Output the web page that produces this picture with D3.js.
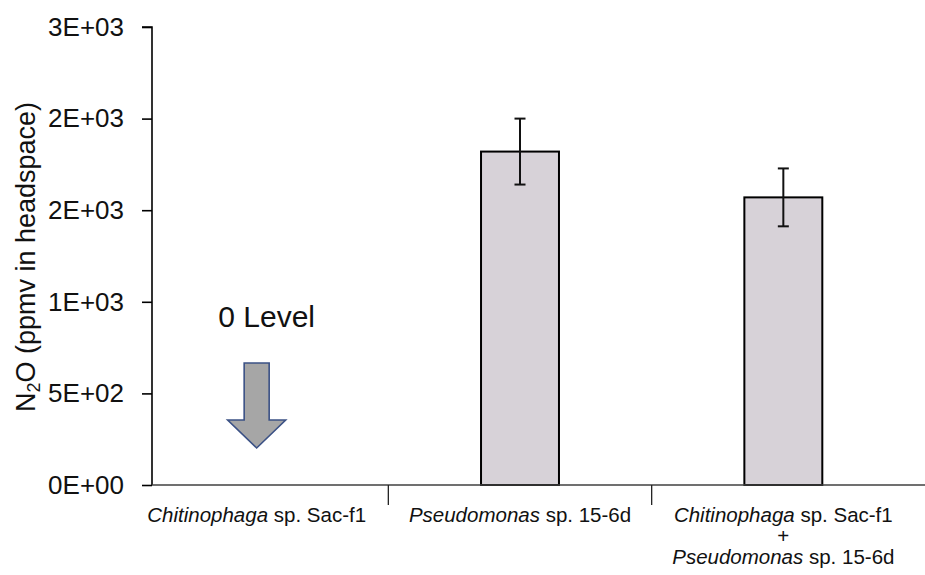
<!DOCTYPE html>
<html>
<head>
<meta charset="utf-8">
<script src="https://cdn.jsdelivr.net/npm/d3@7"></script>
<style>
  html, body { margin: 0; padding: 0; background: #fff; }
  svg { display: block; font-family: "Liberation Sans", Arial, sans-serif; }
</style>
</head>
<body>
<svg id="chart" width="925" height="575"></svg>
<script>
// N2O accumulated in the headspace for each culture
const categories = ["chitinophaga", "pseudomonas", "coculture"];
const categoryLines = [
  [[["Chitinophaga", true], [" sp. Sac-f1", false]]],
  [[["Pseudomonas", true], [" sp. 15-6d", false]]],
  [
    [["Chitinophaga", true], [" sp. Sac-f1", false]],
    [["+", false]],
    [["Pseudomonas", true], [" sp. 15-6d", false]]
  ]
];
const n2oMean = [0, 1820, 1570];
const n2oError = [0, 180, 158];
const yTickValues = [0, 500, 1000, 1500, 2000, 2500];
const yTickLabels = ["0E+00", "5E+02", "1E+03", "2E+03", "2E+03", "3E+03"];
const yTitle = ["N", "2", "O (ppmv in headspace)"];
const zeroNote = "0 Level";

const svg = d3.select("#chart");
const plot = { left: 152, top: 27, bottom: 485, right: 925 };

const y = d3.scaleLinear().domain([0, 2500]).range([plot.bottom, plot.top]);
const x = d3.scaleBand().domain(categories).range([125, 915]).padding(0);
const barW = x.bandwidth() * 0.296;

const rows = categories.map((c, i) => ({ c, v: n2oMean[i], e: n2oError[i], lines: categoryLines[i] }));

// bars (a zero mean draws no bar)
svg.append("g").selectAll("rect")
  .data(rows.filter(d => d.v > 0))
  .join("rect")
  .attr("x", d => x(d.c) + x.bandwidth() / 2 - barW / 2)
  .attr("y", d => y(d.v))
  .attr("width", barW)
  .attr("height", d => y(0) - y(d.v))
  .attr("fill", "#d7d2d8")
  .attr("stroke", "#000")
  .attr("stroke-width", 2);

// error bars
const eb = svg.append("g").attr("stroke", "#111").attr("stroke-width", 2)
  .selectAll("g").data(rows.filter(d => d.e > 0)).join("g");
const cx = d => x(d.c) + x.bandwidth() / 2;
const capW = 11;
eb.append("line").attr("x1", cx).attr("x2", cx)
  .attr("y1", d => y(d.v + d.e)).attr("y2", d => y(d.v - d.e));
eb.append("line").attr("x1", d => cx(d) - capW / 2).attr("x2", d => cx(d) + capW / 2)
  .attr("y1", d => y(d.v + d.e)).attr("y2", d => y(d.v + d.e));
eb.append("line").attr("x1", d => cx(d) - capW / 2).attr("x2", d => cx(d) + capW / 2)
  .attr("y1", d => y(d.v - d.e)).attr("y2", d => y(d.v - d.e));

// y axis
const yAxis = d3.axisLeft(y)
  .tickValues(yTickValues)
  .tickFormat((d, i) => yTickLabels[i])
  .tickSize(10)
  .tickPadding(18);
const gy = svg.append("g").attr("transform", `translate(${plot.left},0)`).call(yAxis);
gy.select(".domain").attr("stroke", "#000").attr("stroke-width", 1.6)
  .attr("d", `M-10,${y(2500)}H0V${y(0)}`);
gy.selectAll(".tick line").attr("stroke", "#000").attr("stroke-width", 1.6);
gy.selectAll(".tick text")
  .attr("font-size", 26)
  .attr("fill", "#111")
  .attr("font-family", "Liberation Sans, Arial, sans-serif");

// x axis baseline and category dividers
svg.append("line")
  .attr("x1", plot.left).attr("x2", plot.right)
  .attr("y1", y(0)).attr("y2", y(0))
  .attr("stroke", "#404040").attr("stroke-width", 1.3);
svg.append("g").selectAll("line")
  .data(categories.slice(1))
  .join("line")
  .attr("x1", d => x(d)).attr("x2", d => x(d))
  .attr("y1", y(0)).attr("y2", y(0) + 20)
  .attr("stroke", "#222").attr("stroke-width", 1.3);

// category labels
const lab = svg.append("g").attr("font-size", 20.5).attr("fill", "#111")
  .selectAll("text")
  .data(rows.flatMap(d => d.lines.map((segs, li) => ({ c: d.c, segs, li }))))
  .join("text")
  .attr("x", d => x(d.c) + x.bandwidth() / 2)
  .attr("y", d => y(0) + 37 + d.li * 21)
  .attr("text-anchor", "middle");
lab.selectAll("tspan")
  .data(d => d.segs)
  .join("tspan")
  .attr("font-style", s => s[1] ? "italic" : "normal")
  .attr("xml:space", "preserve")
  .text(s => s[0]);

// y axis title
const t = svg.append("text")
  .attr("transform", `translate(35,${(y(0) + y(2500)) / 2 + 1}) rotate(-90)`)
  .attr("text-anchor", "middle")
  .attr("font-size", 27)
  .attr("fill", "#111");
t.append("tspan").text(yTitle[0]);
t.append("tspan").attr("font-size", 18).attr("dy", 5).text(yTitle[1]);
t.append("tspan").attr("dy", -5).text(yTitle[2]);

// note for the culture with no detectable N2O
const zeroCx = x(categories[0]) + x.bandwidth() / 2;
svg.append("text")
  .attr("x", zeroCx + 10)
  .attr("y", 327)
  .attr("text-anchor", "middle")
  .attr("font-size", 30)
  .attr("fill", "#111")
  .text(zeroNote);

const shaftHalf = 12.5, headHalf = 29, shaftTop = 363, headTop = 420, tip = 448;
const arrow = d3.path();
arrow.moveTo(zeroCx - shaftHalf, shaftTop);
arrow.lineTo(zeroCx + shaftHalf, shaftTop);
arrow.lineTo(zeroCx + shaftHalf, headTop);
arrow.lineTo(zeroCx + headHalf, headTop);
arrow.lineTo(zeroCx, tip);
arrow.lineTo(zeroCx - headHalf, headTop);
arrow.lineTo(zeroCx - shaftHalf, headTop);
arrow.closePath();
svg.append("path")
  .attr("d", arrow.toString())
  .attr("fill", "#a6a6a6")
  .attr("stroke", "#3b5185")
  .attr("stroke-width", 1.6)
  .attr("stroke-linejoin", "miter");
</script>
</body>
</html>
